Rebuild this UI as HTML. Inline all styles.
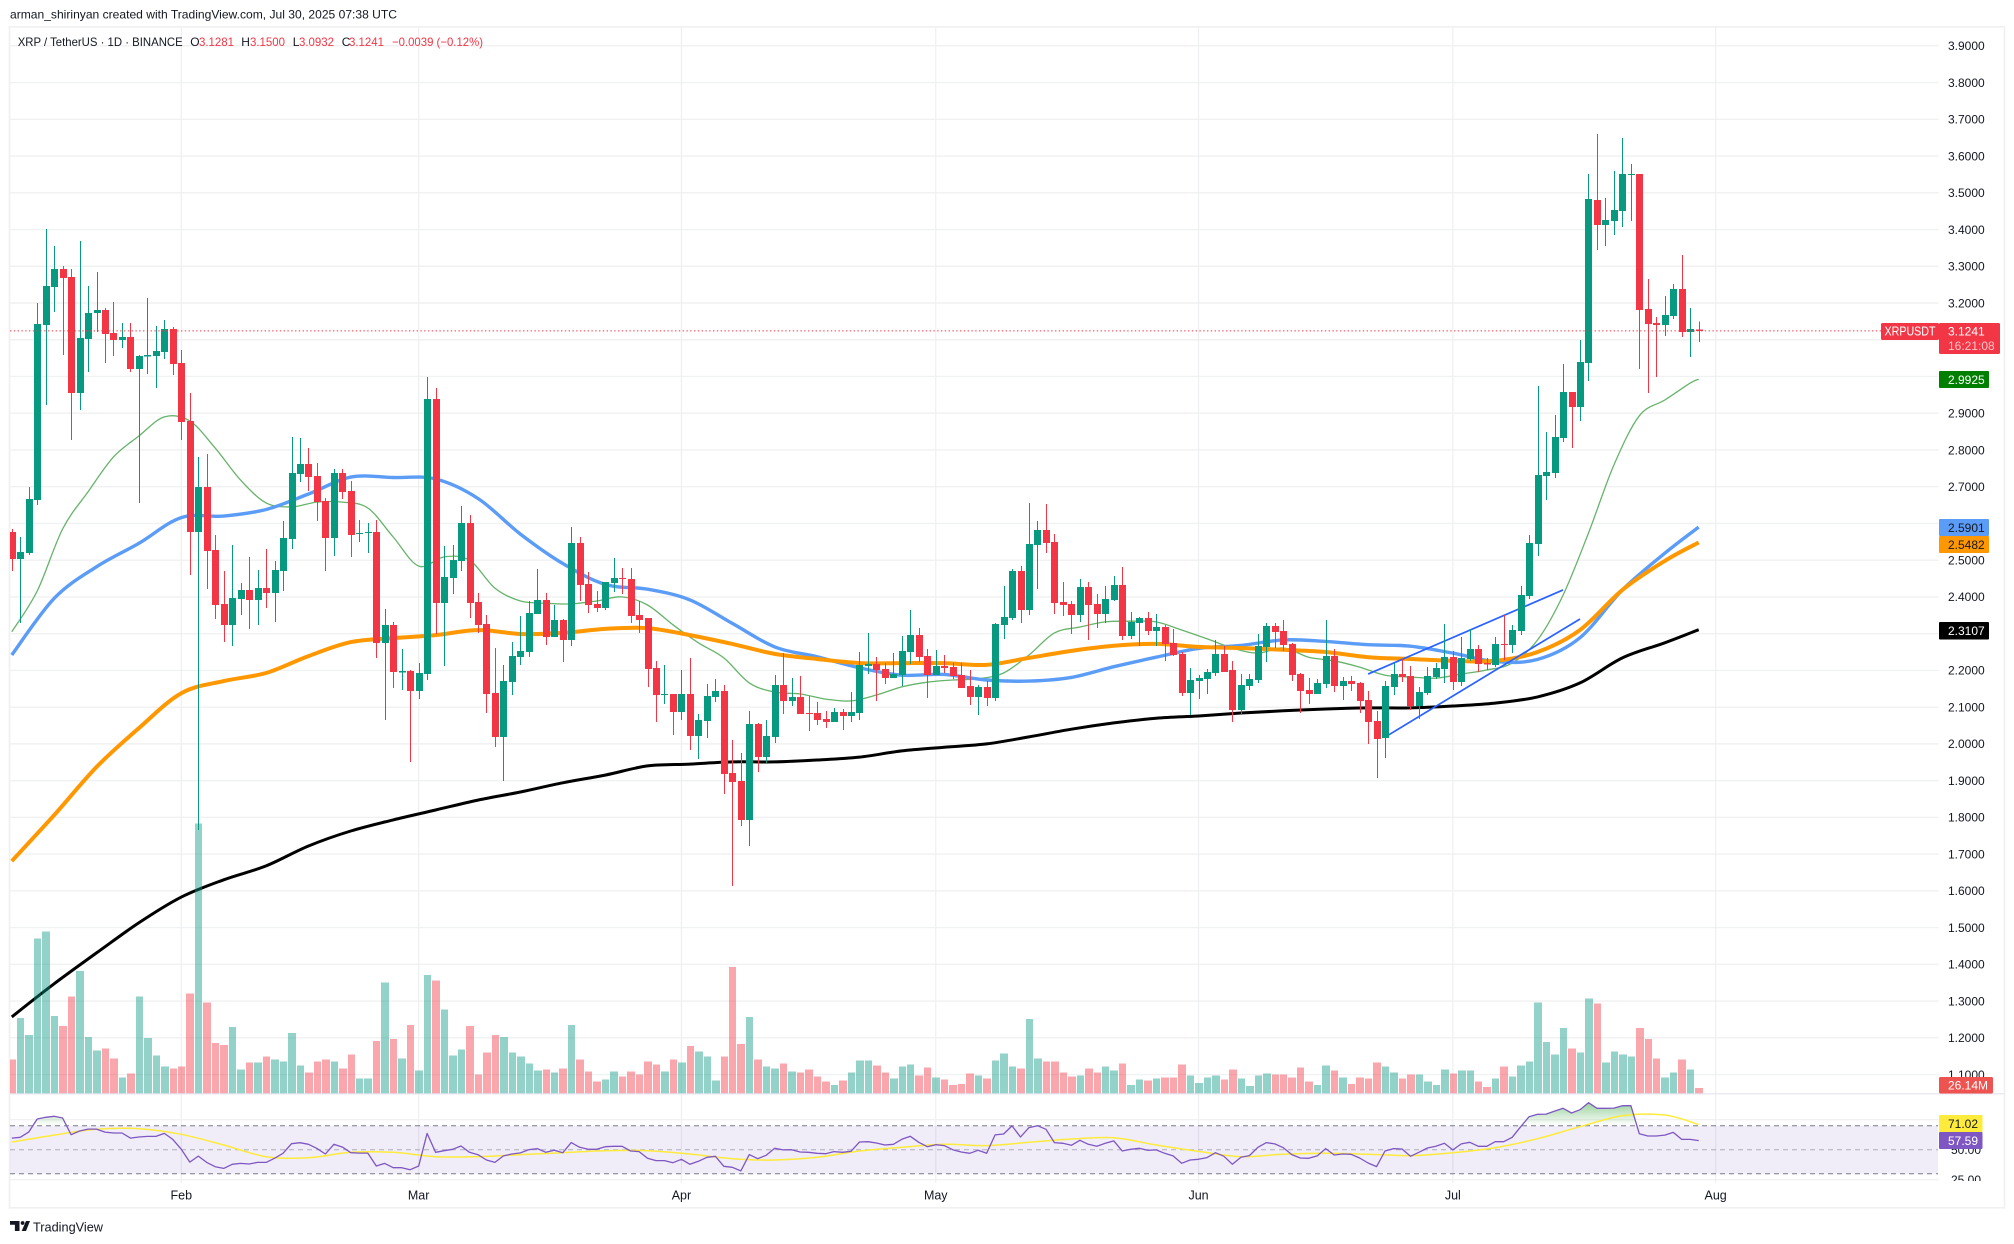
<!DOCTYPE html>
<html lang="en">
<head>
<meta charset="utf-8">
<title>XRP / TetherUS 1D chart</title>
<style>
html,body{margin:0;padding:0;background:#fff;width:2014px;height:1244px;overflow:hidden}
svg{display:block}
text{font-family:"Liberation Sans",sans-serif;font-size:12px;fill:#131722}
</style>
</head>
<body>
<svg id="chart-svg" xmlns="http://www.w3.org/2000/svg" width="2014" height="1244" viewBox="0 0 2014 1244">
  <defs>
    <clipPath id="plot-clip"><rect x="10" y="27" width="1928.5" height="1156"/></clipPath>
    <clipPath id="rsi-axis-clip"><rect x="1939" y="1094" width="70" height="87"/></clipPath>
    <clipPath id="ob-clip"><rect x="10" y="1094" width="1928" height="31.7"/></clipPath>
    <linearGradient id="ob-gradient" gradientUnits="userSpaceOnUse" x1="0" y1="1103" x2="0" y2="1125.7">
      <stop offset="0" stop-color="#4caf50" stop-opacity="0.55"/>
      <stop offset="1" stop-color="#4caf50" stop-opacity="0"/>
    </linearGradient>
  </defs>
  <rect x="0" y="0" width="2014" height="1244" fill="#ffffff"/>
  <text x="10" y="18.5" textLength="387" lengthAdjust="spacingAndGlyphs">arman_shirinyan created with TradingView.com, Jul 30, 2025 07:38 UTC</text>
  <rect x="9.5" y="26.8" width="1995" height="1181" fill="none" stroke="#f0f0f0" stroke-width="1.6"/>
  <g id="grid-layer"></g>
  <g id="plot-layer" clip-path="url(#plot-clip)"></g>
  <line x1="10" y1="1093.8" x2="2004" y2="1093.8" stroke="#e2e3ee" stroke-width="1.2"/>
  <g id="axis-layer"></g>
  <g id="rsi-axis-layer" clip-path="url(#rsi-axis-clip)"></g>
  <g id="time-axis-layer"></g>

  <g>
    <text x="17.7" y="46" textLength="165" lengthAdjust="spacingAndGlyphs">XRP / TetherUS · 1D · BINANCE</text>
    <text x="190.3" y="46">O</text>
    <text x="199" y="46" textLength="35" lengthAdjust="spacingAndGlyphs" style="fill:#f23645">3.1281</text>
    <text x="241.3" y="46">H</text>
    <text x="250" y="46" textLength="35" lengthAdjust="spacingAndGlyphs" style="fill:#f23645">3.1500</text>
    <text x="292.7" y="46">L</text>
    <text x="299" y="46" textLength="35" lengthAdjust="spacingAndGlyphs" style="fill:#f23645">3.0932</text>
    <text x="341.7" y="46">C</text>
    <text x="349" y="46" textLength="35" lengthAdjust="spacingAndGlyphs" style="fill:#f23645">3.1241</text>
    <text x="392" y="46" textLength="91" lengthAdjust="spacingAndGlyphs" style="fill:#f23645">−0.0039 (−0.12%)</text>
  </g>

  <g>
    <rect x="1939" y="1077" width="54" height="16.5" rx="1.5" fill="#ef5350"/>
    <text x="1948" y="1089.5" style="fill:#fff">26.14M</text>
    <rect x="1881" y="323" width="58" height="17" rx="1.5" fill="#f23645"/>
    <text x="1884.5" y="335.5" textLength="51" lengthAdjust="spacingAndGlyphs" style="fill:#fff;font-size:12.5px">XRPUSDT</text>
    <rect x="1939" y="323" width="61" height="31" rx="1.5" fill="#f23645"/>
    <text x="1948" y="335.5" style="fill:#fff">3.1241</text>
    <text x="1948" y="350" style="fill:#fbc4c8">16:21:08</text>
    <rect x="1939" y="371" width="50" height="17" rx="1" fill="#007f00"/>
    <text x="1948" y="384" style="fill:#fff">2.9925</text>
    <rect x="1939" y="519" width="50" height="17" rx="1" fill="#5b9cf6"/>
    <text x="1948" y="532">2.5901</text>
    <rect x="1939" y="536" width="50" height="17" rx="1" fill="#ff9800"/>
    <text x="1948" y="549">2.5482</text>
    <rect x="1939" y="622" width="50" height="17.5" rx="1" fill="#000"/>
    <text x="1948" y="635" style="fill:#fff">2.3107</text>
    <rect x="1939" y="1115" width="43.5" height="17" rx="1" fill="#ffeb3b"/>
    <text x="1948" y="1128">71.02</text>
    <rect x="1939" y="1132" width="43.5" height="17" rx="1" fill="#7e57c2"/>
    <text x="1948" y="1145" style="fill:#fff">57.59</text>
  </g>

  <g>
    <path d="M10 1221h9.5v10h-4.6v-6.2H10z" fill="#131722"/>
    <circle cx="22.6" cy="1223" r="1.9" fill="#131722"/>
    <path d="M26 1221h4l-4 10h-4.3z" fill="#131722"/>
    <text x="33" y="1231.5" textLength="70" lengthAdjust="spacingAndGlyphs" style="font-size:13px">TradingView</text>
  </g>
</svg>
<script>
const opens=[2.577,2.503,2.520,2.664,3.140,3.243,3.292,3.271,2.955,3.102,
3.173,3.181,3.118,3.099,3.107,3.020,3.056,3.056,3.067,3.129,
3.037,2.879,2.577,2.699,2.528,2.381,2.324,2.394,2.419,2.392,
2.424,2.411,2.471,2.558,2.735,2.762,2.729,2.661,2.560,2.737,
2.688,2.571,2.574,2.577,2.275,2.324,2.196,2.198,2.144,2.190,
2.939,2.383,2.452,2.498,2.601,2.386,2.326,2.139,2.019,2.168,
2.236,2.250,2.353,2.392,2.291,2.337,2.283,2.547,2.435,2.381,
2.370,2.438,2.452,2.449,2.351,2.343,2.207,2.133,2.136,2.087,
2.136,2.022,2.062,2.127,2.144,1.921,1.899,1.793,2.054,1.964,
2.019,2.160,2.117,2.127,2.084,2.084,2.068,2.060,2.087,2.076,
2.084,2.212,2.217,2.204,2.179,2.187,2.250,2.296,2.239,2.187,
2.212,2.209,2.187,2.157,2.127,2.155,2.125,2.324,2.343,2.471,
2.364,2.541,2.582,2.550,2.386,2.381,2.351,2.427,2.381,2.353,
2.392,2.433,2.294,2.329,2.343,2.307,2.318,2.275,2.245,2.138,
2.171,2.177,2.193,2.245,2.201,2.092,2.157,2.174,2.264,2.321,
2.307,2.272,2.190,2.147,2.136,2.163,2.239,2.157,2.171,2.166,
2.119,2.062,2.016,2.155,2.190,2.185,2.103,2.138,2.182,2.204,
2.236,2.168,2.231,2.258,2.220,2.215,2.272,2.269,2.307,2.403,
2.544,2.729,2.737,2.832,2.958,2.917,3.037,3.480,3.412,3.423,
3.450,3.548,3.551,3.184,3.146,3.140,3.165,3.238,3.121,3.1281];
const highs=[2.585,2.563,2.699,3.200,3.401,3.355,3.301,3.292,3.369,3.246,
3.284,3.186,3.203,3.146,3.146,3.058,3.214,3.137,3.154,3.135,
3.072,2.955,2.781,2.789,2.569,2.471,2.541,2.438,2.509,2.473,
2.530,2.498,2.607,2.835,2.832,2.805,2.765,2.669,2.748,2.748,
2.715,2.609,2.601,2.609,2.367,2.332,2.258,2.201,2.220,2.999,
2.969,2.539,2.541,2.648,2.623,2.411,2.351,2.261,2.215,2.277,
2.348,2.389,2.476,2.411,2.378,2.340,2.590,2.563,2.468,2.416,
2.441,2.506,2.479,2.479,2.389,2.343,2.226,2.215,2.136,2.201,
2.234,2.081,2.163,2.177,2.160,2.010,1.975,2.089,2.057,2.065,
2.187,2.247,2.179,2.185,2.130,2.114,2.089,2.098,2.095,2.141,
2.250,2.302,2.236,2.220,2.247,2.294,2.364,2.315,2.258,2.256,
2.242,2.220,2.220,2.201,2.160,2.171,2.329,2.430,2.476,2.484,
2.656,2.607,2.653,2.571,2.441,2.389,2.449,2.441,2.408,2.430,
2.457,2.482,2.359,2.345,2.359,2.353,2.324,2.313,2.250,2.206,
2.187,2.204,2.283,2.267,2.226,2.190,2.190,2.299,2.329,2.329,
2.337,2.275,2.193,2.179,2.177,2.337,2.258,2.182,2.185,2.168,
2.144,2.089,2.171,2.220,2.231,2.212,2.155,2.209,2.220,2.326,
2.253,2.291,2.313,2.269,2.234,2.291,2.351,2.324,2.430,2.569,
2.974,2.849,2.895,3.034,2.958,3.099,3.551,3.660,3.486,3.559,
3.649,3.578,3.551,3.265,3.162,3.219,3.252,3.331,3.186,3.15];
const lows=[2.471,2.329,2.514,2.650,2.922,3.175,3.058,2.827,2.909,3.012,
3.121,3.037,3.056,3.078,3.012,2.656,3.007,2.969,3.048,3.004,
2.827,2.460,1.766,2.422,2.340,2.277,2.267,2.351,2.313,2.324,
2.370,2.332,2.416,2.530,2.713,2.688,2.607,2.471,2.511,2.666,
2.509,2.550,2.520,2.234,2.065,2.152,2.147,1.951,2.122,2.174,
2.299,2.212,2.408,2.471,2.343,2.302,2.084,1.991,1.899,2.133,
2.215,2.236,2.353,2.269,2.291,2.223,2.267,2.389,2.356,2.359,
2.364,2.413,2.408,2.329,2.302,2.155,2.060,2.108,2.024,2.065,
1.983,1.959,2.016,2.114,1.864,1.613,1.777,1.722,1.923,1.948,
2.003,2.081,2.103,2.081,2.035,2.051,2.043,2.060,2.038,2.060,
2.065,2.190,2.117,2.163,2.179,2.157,2.217,2.223,2.125,2.187,
2.193,2.177,2.152,2.106,2.079,2.103,2.117,2.286,2.337,2.329,
2.351,2.422,2.520,2.353,2.348,2.299,2.332,2.283,2.315,2.329,
2.389,2.283,2.286,2.267,2.296,2.267,2.226,2.239,2.130,2.079,
2.122,2.136,2.185,2.196,2.060,2.081,2.147,2.166,2.223,2.261,
2.253,2.171,2.084,2.108,2.136,2.152,2.141,2.119,2.144,2.084,
2.000,1.907,1.962,2.133,2.168,2.092,2.068,2.133,2.177,2.166,
2.147,2.157,2.226,2.196,2.201,2.209,2.228,2.247,2.296,2.394,
2.511,2.664,2.724,2.822,2.805,2.879,2.988,3.344,3.355,3.385,
3.407,3.423,3.020,2.955,2.999,3.110,3.157,3.107,3.053,3.0932];
const closes=[2.503,2.522,2.666,3.143,3.246,3.292,3.268,2.955,3.105,3.173,
3.181,3.116,3.099,3.107,3.020,3.056,3.058,3.069,3.129,3.034,
2.876,2.577,2.699,2.525,2.378,2.324,2.397,2.419,2.392,2.424,
2.411,2.473,2.560,2.737,2.762,2.726,2.658,2.560,2.737,2.686,
2.569,2.574,2.577,2.275,2.324,2.196,2.198,2.144,2.193,2.939,
2.383,2.454,2.501,2.601,2.383,2.324,2.136,2.019,2.171,2.239,
2.253,2.356,2.392,2.291,2.337,2.283,2.547,2.433,2.378,2.370,
2.441,2.452,2.449,2.348,2.337,2.204,2.133,2.136,2.087,2.136,
2.022,2.065,2.130,2.144,1.918,1.896,1.793,2.054,1.964,2.022,
2.160,2.117,2.127,2.081,2.081,2.065,2.060,2.087,2.076,2.087,
2.215,2.217,2.201,2.179,2.190,2.253,2.296,2.236,2.187,2.212,
2.207,2.185,2.152,2.127,2.155,2.125,2.326,2.345,2.471,2.364,
2.544,2.582,2.547,2.383,2.378,2.351,2.427,2.378,2.353,2.394,
2.433,2.294,2.332,2.343,2.307,2.318,2.272,2.242,2.138,2.174,
2.179,2.196,2.245,2.196,2.092,2.160,2.177,2.267,2.321,2.305,
2.269,2.187,2.144,2.136,2.166,2.239,2.157,2.171,2.163,2.117,
2.060,2.013,2.157,2.190,2.182,2.103,2.141,2.185,2.207,2.236,
2.168,2.234,2.258,2.217,2.217,2.272,2.269,2.310,2.405,2.547,
2.732,2.740,2.835,2.958,2.917,3.039,3.483,3.412,3.426,3.453,
3.551,3.551,3.181,3.143,3.140,3.167,3.238,3.121,3.129,3.1241];
const volumes=[167,372,287,762,797,382,332,477,602,277,
212,222,172,77,97,477,272,187,132,122,
132,492,1330,447,247,237,327,117,152,152,
182,167,157,297,137,102,157,167,157,122,
192,72,72,257,547,267,172,337,112,582,
557,412,187,217,332,92,202,287,277,202,
182,147,112,117,102,122,337,167,107,57,
67,107,82,107,92,157,142,107,167,152,
232,207,182,62,182,622,242,377,167,132,
122,147,107,102,117,82,57,42,62,102,
162,162,137,102,72,132,142,87,127,77,
67,42,47,97,87,72,162,197,132,122,
367,172,157,157,102,82,87,122,102,132,
112,147,42,67,62,72,77,77,142,87,
52,77,87,67,117,72,37,87,97,92,
92,77,127,57,42,137,112,77,47,77,
72,152,132,102,72,92,92,57,42,117,
97,112,112,57,32,72,132,82,137,157,
447,252,192,322,222,202,467,442,152,207,
192,182,322,267,172,77,102,167,117,26.14];
const rsiValues=[59.7,60.3,64.7,75.6,77,77.8,76.4,62.5,65.6,67.2,
67.2,64.7,63.9,63.9,59.7,60.6,61.1,61.1,63.6,58.6,
50.3,39.7,44.7,39.4,35.8,34.4,37.8,38.6,38.1,39.4,
39.4,42.8,47,55,55.8,54.5,51.1,46.4,54.5,52.2,
47.5,47.2,47.2,36.4,38.6,35,35,33.3,36.4,63.6,
47.8,49.2,50.3,53.1,47.8,45.8,41.4,39.4,44.8,46.4,
47.3,50,50.9,47.8,49.5,47.5,55.9,52,50.3,50.3,
52.5,52.8,52.8,48.9,48.4,42.8,40.9,40.9,39.2,42,
37.8,40.3,43.7,44.5,36.2,35.3,32.3,45.9,42.5,45.3,
51.2,49.8,50,48.1,47.8,47,46.7,48.4,47.8,48.7,
56.4,56.7,55.6,53.9,54.5,58.7,61.2,56.2,52.5,54.2,
53.4,50,48.1,47,49.5,47,62.3,63.1,69.8,60.6,
68.4,70,67,55.9,55.3,53.7,57.8,54.5,52.8,55.3,
57.3,48.9,50.3,51.2,49.5,49.8,47,44.8,38.7,41.4,
42,43.4,47.5,44.5,37.8,43.7,45.1,52,55.9,54.8,
51.7,45.9,43.1,42.8,44.8,50.9,45.6,46.4,46.2,43.1,
38.9,35.9,48.9,50.9,50.6,44.5,47.8,51.4,52.8,55.3,
49.8,54.8,56.2,52.8,52.8,56.7,56.7,60.3,69.2,77.5,
79.5,79.7,82.2,84.5,80.6,83.3,89.2,84.5,84.5,84.7,
86.7,86.7,63.3,61.4,61.4,62.2,64.4,58.6,58.6,57.59];
const rsiMaValues=[56.4,62.2,67,67.5,62.8,53.9,44.2,43.3,47.8,47.8,44.2,44.2,
45.9,47.5,49.2,49.2,46.4,42.5,41.4,43.7,48.9,52,54.5,53.4,
56.2,58.9,60,53.9,48.6,44.2,46.2,47,46.2,45.1,47.5,51.7,
59.2,69.2,78.3,78.9,71.02];
const maFastValues=[2.305,2.416,2.585,2.686,2.781,2.838,2.890,2.879,2.805,2.718,
2.656,2.645,2.658,2.658,2.642,2.563,2.484,2.509,2.500,2.424,
2.389,2.383,2.381,2.389,2.400,2.378,2.324,2.275,2.234,2.166,
2.141,2.136,2.122,2.117,2.133,2.155,2.168,2.174,2.177,2.193,
2.242,2.302,2.318,2.332,2.334,2.332,2.310,2.286,2.261,2.247,
2.261,2.236,2.226,2.209,2.187,2.182,2.179,2.190,2.201,2.220,
2.283,2.405,2.574,2.759,2.893,2.936,2.982,2.9925];
const maMidValues=[2.242,2.396,2.482,2.546,2.616,2.620,2.638,2.680,2.726,2.725,2.721,2.668,
2.571,2.491,2.434,2.421,2.392,2.328,2.264,2.237,2.207,2.187,2.189,2.174,
2.171,2.181,2.210,2.236,2.260,2.268,2.283,2.279,2.270,2.266,2.247,2.224,
2.230,2.289,2.419,2.519,2.5901];
const maSlowValues=[1.681,1.806,1.937,2.043,2.138,2.171,2.193,2.239,2.277,2.288,2.296,2.310,
2.299,2.302,2.313,2.315,2.296,2.272,2.245,2.231,2.220,2.220,2.220,2.215,
2.234,2.253,2.267,2.272,2.264,2.261,2.256,2.250,2.236,2.231,2.226,2.226,
2.250,2.310,2.419,2.498,2.5482];
const maLongValues=[1.257,1.347,1.431,1.513,1.583,1.630,1.668,1.722,1.763,1.793,1.820,1.847,
1.869,1.894,1.915,1.940,1.945,1.951,1.951,1.956,1.964,1.981,1.991,2.000,
2.019,2.040,2.057,2.070,2.076,2.084,2.090,2.095,2.098,2.098,2.103,2.111,
2.128,2.166,2.234,2.275,2.3107];
const priceTicks=["3.9000","3.8000","3.7000","3.6000","3.5000","3.4000","3.3000","3.2000","3.1000","3.0000","2.9000","2.8000","2.7000","2.6000","2.5000","2.4000","2.3000","2.2000","2.1000","2.0000","1.9000","1.8000","1.7000","1.6000","1.5000","1.4000","1.3000","1.2000","1.1000"];
const hiddenPriceLabels=["3.1000","3.0000","2.6000","2.3000"];
const rsiTicks=["75.00","50.00","25.00"];
const monthLabels=["Feb","Mar","Apr","May","Jun","Jul","Aug"];
const monthBars=[20,48,79,109,140,170,201];
const trendUpperBars=[160,183];
const trendUpperPrices=[2.190,2.419];
const trendLowerBars=[162.4,185];
const trendLowerPrices=[2.024,2.340];
const lastPrice=3.1241;

const NS='http://www.w3.org/2000/svg';
const lastBar=opens.length-1;
const xOf=i=>181.3+8.477*(i-20);
const yPrice=p=>119.3+(3.7-p)*367.4;
const yRsi=v=>1125.7+(70-v)*1.2;
const volBase=1093.3;
const volHeight=v=>v/4.93;
const gridLayer=document.getElementById('grid-layer');
const plot=document.getElementById('plot-layer');
const axisLayer=document.getElementById('axis-layer');
const rsiAxisLayer=document.getElementById('rsi-axis-layer');
const timeAxisLayer=document.getElementById('time-axis-layer');
function make(tag,attrs,parent){
  const el=document.createElementNS(NS,tag);
  for(const k in attrs){el.setAttribute(k,attrs[k]);}
  parent.appendChild(el);
  return el;
}
function polyPoints(values,step,scale){
  return values.map((v,k)=>{
    const bar=Math.min(k*step,lastBar);
    return xOf(bar).toFixed(1)+','+scale(v).toFixed(1);
  }).join(' ');
}
function smoothPath(values,step,scale){
  const pts=values.map((v,k)=>[xOf(Math.min(k*step,lastBar)),scale(v)]);
  let d='M'+pts[0][0].toFixed(1)+' '+pts[0][1].toFixed(1);
  for(let k=0;k<pts.length-1;k++){
    const p0=pts[Math.max(k-1,0)];
    const p1=pts[k];
    const p2=pts[k+1];
    const p3=pts[Math.min(k+2,pts.length-1)];
    const c1x=p1[0]+(p2[0]-p0[0])/6;
    const c1y=p1[1]+(p2[1]-p0[1])/6;
    const c2x=p2[0]-(p3[0]-p1[0])/6;
    const c2y=p2[1]-(p3[1]-p1[1])/6;
    d+='C'+c1x.toFixed(1)+' '+c1y.toFixed(1)+' '+c2x.toFixed(1)+' '+c2y.toFixed(1)+' '+p2[0].toFixed(1)+' '+p2[1].toFixed(1);
  }
  return d;
}

priceTicks.forEach(t=>{
  const y=yPrice(parseFloat(t));
  const line=make('line',{x1:10,x2:1938.5,y1:y,y2:y,stroke:'#f0f1f2','stroke-width':1.4},gridLayer);
  
  
  if(hiddenPriceLabels.indexOf(t)>=0){return;}
  const label=make('text',{x:1948,y:y+4.3},axisLayer);
  
  
  label.textContent=t;
});
rsiTicks.forEach(t=>{
  const y=yRsi(parseFloat(t));
  if(t!=='50.00'){
    const line=make('line',{x1:10,x2:1938.5,y1:y,y2:y,stroke:'#f0f1f2','stroke-width':1.4},gridLayer);
    
    
  }
  const label=make('text',{x:1951,y:y+4.3},rsiAxisLayer);
  
  
  label.textContent=t;
});
monthLabels.forEach((m,k)=>{
  const x=xOf(monthBars[k]);
  const line=make('line',{x1:x,x2:x,y1:27,y2:1183,stroke:'#eeeff1','stroke-width':1.2},gridLayer);
  
  
  const label=make('text',{x:x,y:1199.5,'text-anchor':'middle',style:'font-size:12.5px'},timeAxisLayer);
  
  
  label.textContent=m;
});

/* RSI pane */
const band=make('rect',{x:10,y:yRsi(70),width:1928,height:yRsi(30)-yRsi(70),fill:'#7e57c2','fill-opacity':0.115},plot);


[[70,'#787b86',1],[50,'#787b86',0.55],[30,'#787b86',1]].forEach(d=>{
  const y=yRsi(d[0]);
  const line=make('line',{x1:10,x2:1938,y1:y,y2:y,stroke:d[1],'stroke-opacity':d[2],'stroke-width':1,'stroke-dasharray':'5 4'},plot);
  
  
});
const rsiPts=polyPoints(rsiValues,1,yRsi);
const obFill=make('polygon',{points:xOf(0)+','+yRsi(70)+' '+rsiPts+' '+xOf(lastBar)+','+yRsi(70),fill:'url(#ob-gradient)','clip-path':'url(#ob-clip)'},plot);


const rsiMaLine=make('path',{d:smoothPath(rsiMaValues,5,yRsi),fill:'none',stroke:'#ffeb3b','stroke-width':1.5,'stroke-linejoin':'round'},plot);


const rsiLine=make('polyline',{points:rsiPts,fill:'none',stroke:'#7e57c2','stroke-width':1.3,'stroke-linejoin':'round'},plot);



/* moving averages */
const fastLine=make('path',{d:smoothPath(maFastValues,3,yPrice),fill:'none',stroke:'#66b36b','stroke-width':1.3,'stroke-linejoin':'round'},plot);


const longLine=make('path',{d:smoothPath(maLongValues,5,yPrice),fill:'none',stroke:'#000000','stroke-width':3,'stroke-linejoin':'round'},plot);


const midLine=make('path',{d:smoothPath(maMidValues,5,yPrice),fill:'none',stroke:'#5b9cf6','stroke-width':3.4,'stroke-linejoin':'round'},plot);


const slowLine=make('path',{d:smoothPath(maSlowValues,5,yPrice),fill:'none',stroke:'#ff9800','stroke-width':4,'stroke-linejoin':'round'},plot);



/* trend channel */
const upperTrend=make('line',{x1:xOf(trendUpperBars[0]),y1:yPrice(trendUpperPrices[0]),x2:xOf(trendUpperBars[1]),y2:yPrice(trendUpperPrices[1]),stroke:'#2962ff','stroke-width':1.7},plot);


const lowerTrend=make('line',{x1:xOf(trendLowerBars[0]),y1:yPrice(trendLowerPrices[0]),x2:xOf(trendLowerBars[1]),y2:yPrice(trendLowerPrices[1]),stroke:'#2962ff','stroke-width':1.7},plot);



/* volume */
const volStart=i=>Math.round(xOf(i)-3.3);
volumes.forEach((v,i)=>{
  const up=closes[i]>=opens[i];
  const h=volHeight(v);
  const bar=make('rect',{x:volStart(i),y:volBase-h,width:volStart(i+1)-volStart(i)-1,height:h,fill:up?'#089981':'#f23645','fill-opacity':0.44,'shape-rendering':'crispEdges'},plot);
  
  
});

/* candles */
opens.forEach((o,i)=>{
  const c=Math.round(xOf(i));
  const cl=closes[i];
  const up=cl>=o;
  const color=up?'#089981':'#f23645';
  const g=make('g',{},plot);
  
  
  const yH=yPrice(highs[i]);
  const yL=yPrice(lows[i]);
  const wick=make('rect',{x:c,y:yH,width:1,height:yL-yH,fill:color,'shape-rendering':'crispEdges'},g);
  
  
  const top=yPrice(Math.max(o,cl));
  const bottom=yPrice(Math.min(o,cl));
  const body=make('rect',{x:c-3,y:top,width:7,height:Math.max(1.2,bottom-top),fill:color,'shape-rendering':'crispEdges'},g);
  
  
});

/* last price line */
const priceLine=make('line',{x1:10,x2:1938,y1:yPrice(lastPrice),y2:yPrice(lastPrice),stroke:'#f23645','stroke-width':1,'stroke-dasharray':'1.4 2.4'},plot);


</script>
</body>
</html>
